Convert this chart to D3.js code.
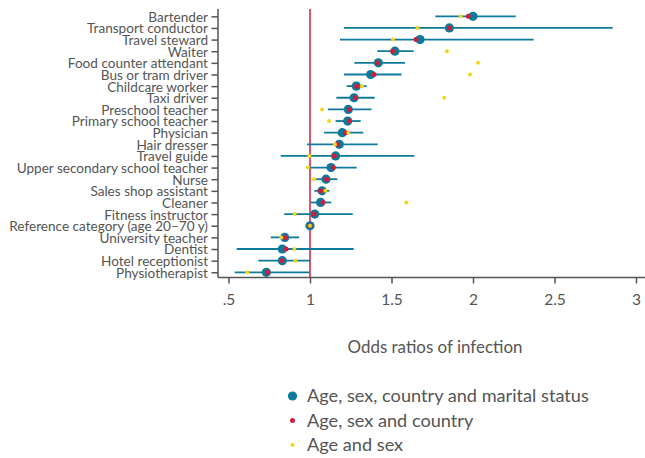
<!DOCTYPE html>
<html><head><meta charset="utf-8">
<script src="https://cdn.jsdelivr.net/npm/d3@7"></script>
<style>body{margin:0;background:#fff}svg{display:block}text{font-family:Lato,"Noto Sans",sans-serif;fill:#555}</style>
</head><body>
<svg id="c" width="645" height="458"></svg>
<script>
const categories = ["Bartender","Transport conductor","Travel steward","Waiter","Food counter attendant","Bus or tram driver","Childcare worker","Taxi driver","Preschool teacher","Primary school teacher","Physician","Hair dresser","Travel guide","Upper secondary school teacher","Nurse","Sales shop assistant","Cleaner","Fitness instructor","Reference category (age 20–70 y)","University teacher","Dentist","Hotel receptionist","Physiotherapist"];
// Age, sex, country and marital status (full model)
const fullOR = [2.00,1.855,1.675,1.521,1.419,1.372,1.284,1.270,1.235,1.231,1.198,1.180,1.157,1.129,1.098,1.074,1.065,1.029,1.0,0.845,0.830,0.830,0.732];
const fullLow = [1.769,1.209,1.184,1.413,1.272,1.209,1.225,1.162,1.110,1.157,1.086,0.982,0.820,1.000,1.037,1.027,1.004,0.842,1.0,0.759,0.550,0.683,0.538];
const fullHigh = [2.262,2.857,2.372,1.636,1.583,1.562,1.348,1.397,1.378,1.311,1.327,1.415,1.640,1.286,1.168,1.119,1.131,1.262,1.0,0.933,1.268,1.002,0.998];
// Age, sex and country
const ascOR = [1.971,1.855,1.650,1.507,1.415,1.393,1.286,1.278,1.243,1.241,1.217,1.170,1.149,1.143,1.102,1.065,1.080,1.025,1.0,0.851,0.853,0.828,0.741];
// Age and sex
const asOR = [1.924,1.659,1.509,1.840,2.031,1.982,1.319,1.824,1.074,1.117,1.235,1.153,0.996,0.988,1.025,1.094,1.591,0.906,1.0,0.824,0.904,0.910,0.615];
const xTicks = [0.5,1,1.5,2,2.5,3];
const xTickLabels = [".5","1","1.5","2","2.5","3"];
const legendLabels = ["Age, sex, country and marital status","Age, sex and country","Age and sex"];
const axisTitle = "Odds ratios of infection";

const teal="#0e7a9b", red="#cc1f3c", yellow="#f7d417", axisCol="#555";
const svg = d3.select("#c");
const x = d3.scaleLinear().domain([1-(310-218)/163, 1+(645-310)/163]).range([218,645]);
const y = d3.scalePoint().domain(categories).range([10.5,278.1]).padding(0.5);

function fit(sel, base, target){
  sel.attr("font-size",base);
  const w = d3.max(sel.nodes(), n=>n.getComputedTextLength());
  sel.attr("font-size", base*target/w);
}

// reference line
svg.append("line").attr("x1",x(1)).attr("x2",x(1)).attr("y1",9).attr("y2",277)
  .attr("stroke",red).attr("stroke-width",1.5);

const data = categories.map((c,i)=>({c,f:fullOR[i],lo:fullLow[i],hi:fullHigh[i],a:ascOR[i],s:asOR[i]}));
const g = svg.append("g");
g.selectAll("line.ci").data(data).join("line").attr("class","ci")
  .attr("x1",d=>x(d.lo)).attr("x2",d=>x(d.hi)).attr("y1",d=>y(d.c)).attr("y2",d=>y(d.c))
  .attr("stroke",teal).attr("stroke-width",1.8);
g.selectAll("circle.f").data(data).join("circle").attr("class","f")
  .attr("cx",d=>x(d.f)).attr("cy",d=>y(d.c)).attr("r",4.6).attr("fill",teal);
g.selectAll("circle.a").data(data).join("circle").attr("class","a")
  .attr("cx",d=>x(d.a)).attr("cy",d=>y(d.c)).attr("r",2.5).attr("fill",red);
g.selectAll("circle.s").data(data).join("circle").attr("class","s")
  .attr("cx",d=>x(d.s)).attr("cy",d=>y(d.c)).attr("r",2).attr("fill",yellow);

// y axis
const ya = svg.append("g").attr("transform","translate(218,0)")
  .call(d3.axisLeft(y).tickSize(6.5).tickPadding(3.5));
ya.select(".domain").attr("d","M0,9V277.5");
ya.selectAll(".domain,.tick line").attr("stroke",axisCol).attr("stroke-width",1.5);
ya.selectAll("text").attr("fill","#555").attr("dy","0.36em");
fit(ya.selectAll("text"), 13, 199);

// x axis
const xa = svg.append("g").attr("transform","translate(0,277.5)")
  .call(d3.axisBottom(x).tickValues(xTicks).tickFormat((d,i)=>xTickLabels[i]).tickSize(6).tickPadding(10));
xa.select(".domain").attr("d","M218,0H645");
xa.selectAll(".domain,.tick line").attr("stroke",axisCol).attr("stroke-width",1.5);
xa.selectAll("text").attr("font-size",15.5).attr("fill","#555");

const title = svg.append("text").attr("x",435).attr("y",353).attr("text-anchor","middle").text(axisTitle);
fit(title, 15.5, 175);

// legend
const leg = svg.append("g");
const lcol=[teal,red,yellow], lr=[4.6,2.5,2];
legendLabels.forEach((t,i)=>{
  const yy = 396 + i*24.5;
  leg.append("circle").attr("cx",292.5).attr("cy",yy).attr("r",lr[i]).attr("fill",lcol[i]);
  leg.append("text").attr("class","lt").attr("x",307).attr("y",yy+6).text(t);
});
fit(leg.selectAll("text.lt"), 16, 282);
</script>
</body></html>
